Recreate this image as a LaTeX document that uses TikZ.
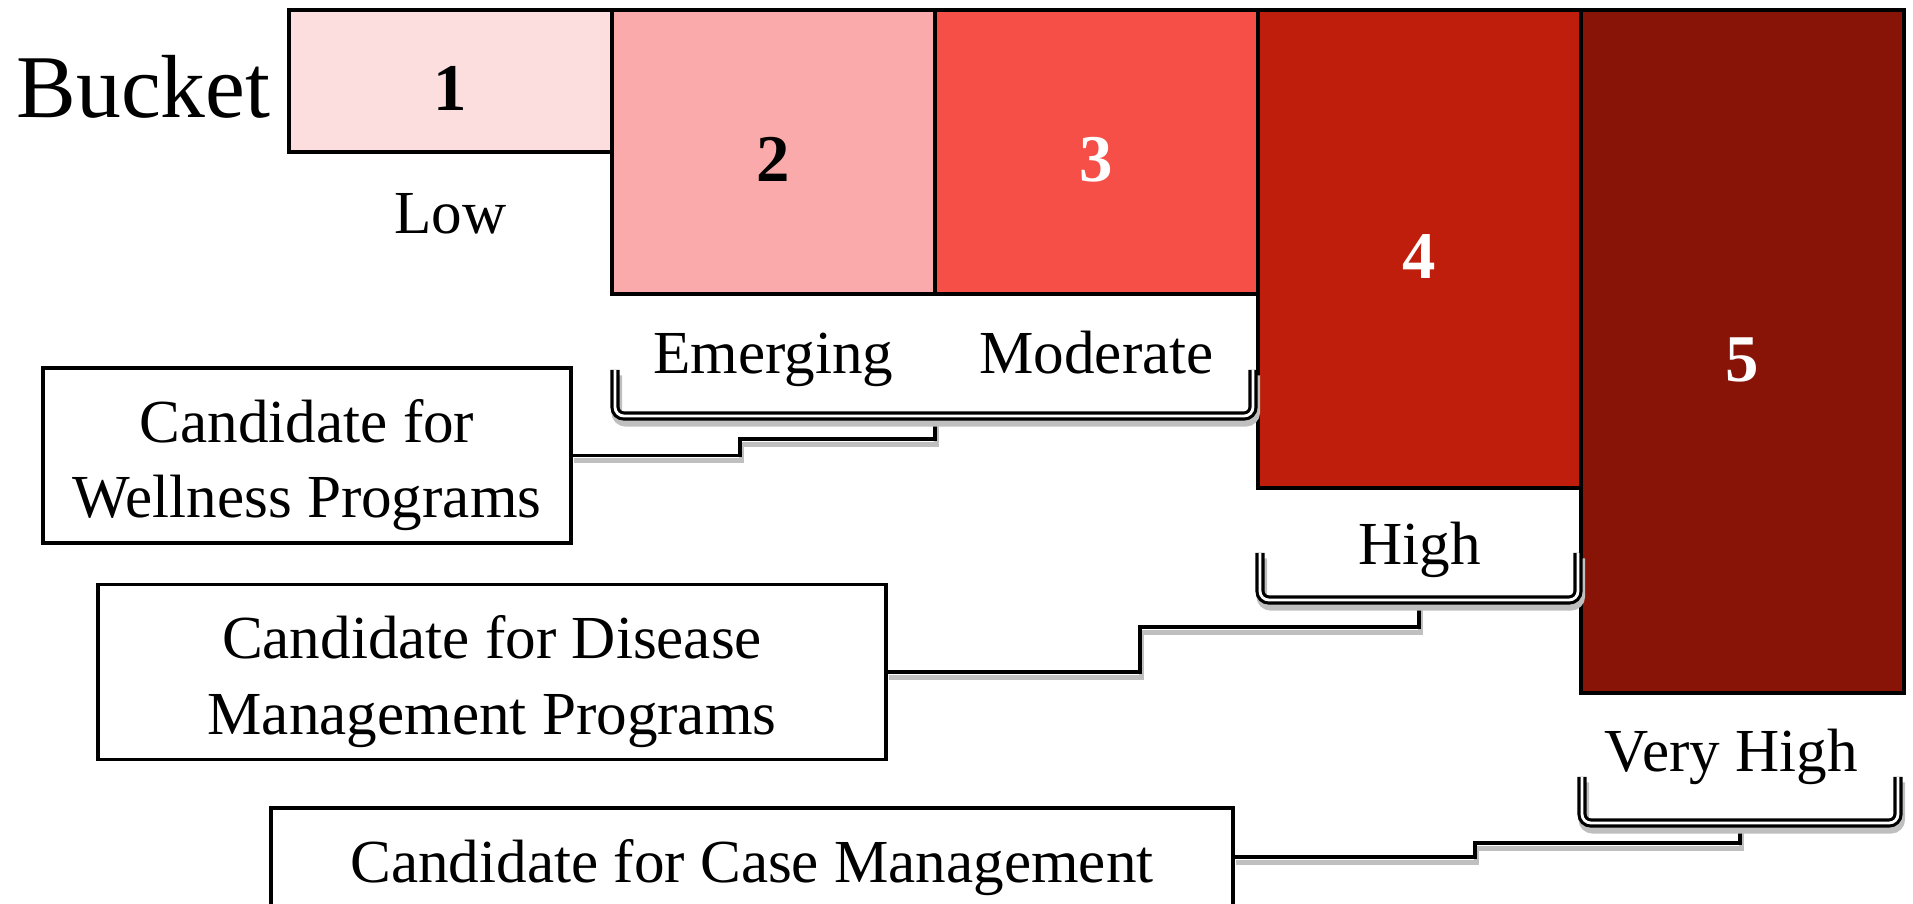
\documentclass[tikz,border=0pt]{standalone}
\usepackage{fontspec}
\setmainfont{Liberation Serif}
\usepackage{xcolor}
\usepackage{tikz}
\usetikzlibrary{positioning}

\definecolor{risk1}{HTML}{FDDEDF}
\definecolor{risk2}{HTML}{FAAAAA}
\definecolor{risk3}{HTML}{F54F47}
\definecolor{risk4}{HTML}{BE1E0B}
\definecolor{risk5}{HTML}{881408}

\begin{document}
\begin{tikzpicture}[
    bucketbox/.style={rectangle, draw, line width=1pt, minimum width=3.23cm, inner sep=0pt, outer sep=0pt, text height=0.6cm, font=\fontsize{19}{23}\selectfont\bfseries},
    rangelabel/.style={anchor=base, font=\fontsize{17.4}{21.5}\selectfont},
    candidate/.style={rectangle, draw, line width=0.9pt, align=center, font=\fontsize{17.4}{21.5}\selectfont},
    bracket/.style={line width=2.6pt, rounded corners=2.5pt, preaction={draw=black!25, line width=3pt, transform canvas={xshift=0.5pt, yshift=-1.5pt}}, postaction={draw=white, line width=0.8pt}},
    link/.style={line width=1.1pt, preaction={draw=black!25, line width=1.5pt, transform canvas={xshift=0.5pt, yshift=-1.5pt}}}]

    \useasboundingbox (0,0) rectangle (19.13,9.04);

    \node[bucketbox, fill=risk1, minimum height=1.42cm, anchor=north west] (b1) at (2.89,8.94) {1};
    \node[bucketbox, fill=risk2, minimum height=2.84cm, below right=0pt and 0pt of b1.north east] (b2) {2};
    \node[bucketbox, fill=risk3, text=white, minimum height=2.84cm, below right=0pt and 0pt of b2.north east] (b3) {3};
    \node[bucketbox, fill=risk4, text=white, minimum height=4.78cm, below right=0pt and 0pt of b3.north east] (b4) {4};
    \node[bucketbox, fill=risk5, text=white, minimum height=6.83cm, below right=0pt and 0pt of b4.north east] (b5) {5};
    \node[inner sep=0pt, font=\fontsize{25.5}{30}\selectfont, left=1.8mm of b1, yshift=-0.6mm] (bucket) {Bucket};

    \node[rangelabel] (low) at ([yshift=-8.2mm]b1.south) {Low};
    \node[rangelabel] (emerging) at ([yshift=-8mm]b2.south) {Emerging};
    \node[rangelabel] (moderate) at ([yshift=-8mm]b3.south) {Moderate};
    \node[rangelabel] (high) at ([yshift=-7.7mm]b4.south) {High};
    \node[rangelabel] (veryhigh) at ([xshift=-1.1mm,yshift=-7.9mm]b5.south) {Very High};

    \node[candidate, minimum width=5.28cm, minimum height=1.75cm] (wellness) at (3.07,4.485) {\rule{0pt}{0.62cm}Candidate for\\Wellness Programs};
    \node[candidate, minimum width=7.88cm, minimum height=1.72cm] (disease) at (4.92,2.32) {\rule{0pt}{0.62cm}Candidate for Disease\\Management Programs};
    \node[candidate, minimum width=9.62cm, minimum height=0.98cm, inner ysep=0pt, text height=0.62cm, text depth=0.1cm] (casemgmt) at (7.52,0.47) {Candidate for Case Management};

    \draw[link] (9.35,4.88) coordinate (br1) |- (7.40,4.65) |- (wellness.east);
    \draw[link] (14.19,3.04) coordinate (br2) |- (11.40,2.77) |- (disease.east);
    \draw[link] (17.40,0.81) coordinate (br3) |- (14.75,0.61) |- (casemgmt.east);

    \draw[bracket] (6.15,5.34) -- (6.15,4.88) -- (br1) -- (12.53,4.88) -- (12.53,5.34);
    \draw[bracket] (12.60,3.51) -- (12.60,3.04) -- (br2) -- (15.78,3.04) -- (15.78,3.51);
    \draw[bracket] (15.82,1.27) -- (15.82,0.81) -- (br3) -- (18.98,0.81) -- (18.98,1.27);
\end{tikzpicture}
\end{document}
